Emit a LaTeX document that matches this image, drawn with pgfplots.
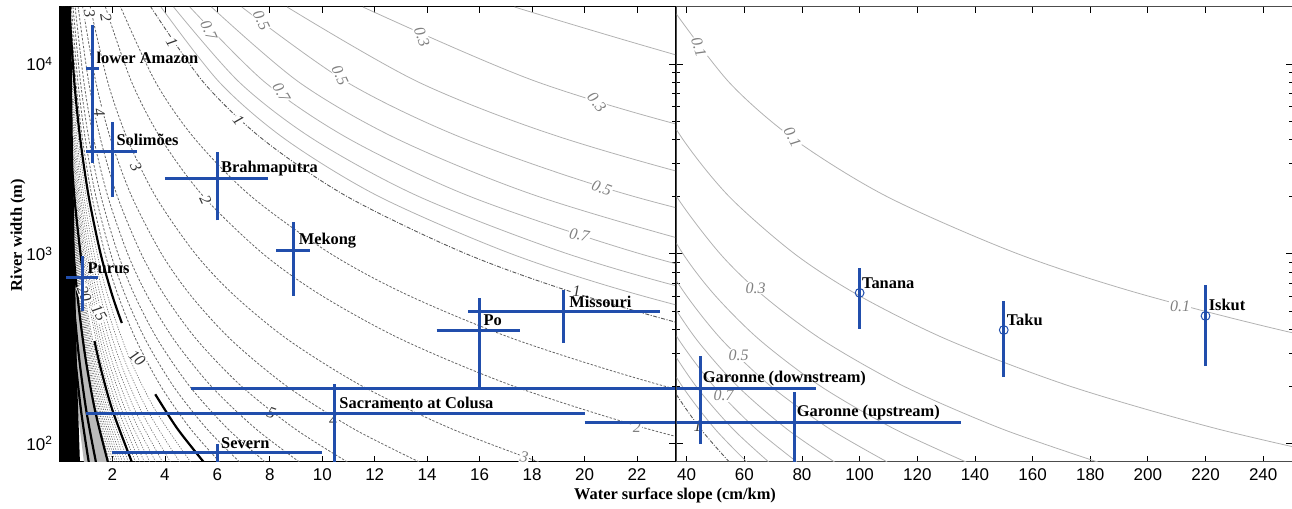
\documentclass[border=0pt]{standalone}
\usepackage{fontspec}
\setmainfont{Liberation Serif}
\newfontfamily\arial{Liberation Sans}
\usepackage{pgfplots}
\pgfplotsset{compat=1.18}
\definecolor{rblue}{RGB}{33,78,172}
\pgfplotsset{
  cg/.style={gray!60, line width=0.4pt, smooth},
  cdd/.style={black!65, line width=0.45pt, dash pattern=on 2pt off 0.8pt on 0.5pt off 0.8pt, smooth},
  cd/.style={black!60, line width=0.4pt, dash pattern=on 1.2pt off 0.8pt, smooth},
  cdot/.style={black!60, line width=0.3pt, dash pattern=on 0.6pt off 0.7pt, smooth},
  cth/.style={black, line width=1.1pt, smooth},
  cfill/.style={draw=none},
  eb/.style={rblue, line width=1.5pt, line cap=butt},
}
\tikzset{
  lab/.style={font=\fontsize{8.2}{8.2}\selectfont\bfseries, anchor=west, inner sep=0pt},
  clab/.style={font=\fontsize{8}{8}\selectfont\itshape, text=gray, fill=white, inner sep=0.4pt},
  clabk/.style={font=\fontsize{8}{8}\selectfont\itshape, text=black!80, fill=white, inner sep=0.4pt},
}
\newcommand{\contours}{%
\addplot[cg] coordinates {(547.8,80)(447.3,120)(346.5,200)(261.9,350)(200,600)(154.9,1000)(109.6,2000)(77.48,4000)(54.78,8000)(34.65,20000)};
\addplot[cg] coordinates {(273.9,80)(223.7,120)(173.3,200)(131,350)(100,600)(77.45,1000)(54.8,2000)(38.74,4000)(27.39,8000)(17.33,20000)};
\addplot[cg] coordinates {(182.6,80)(149.1,120)(115.5,200)(87.3,350)(66.67,600)(51.63,1000)(36.53,2000)(25.83,4000)(18.26,8000)(11.55,20000)};
\addplot[cg] coordinates {(136.95,80)(111.8,120)(86.6,200)(65.5,350)(50,600)(38.73,1000)(27.4,2000)(19.37,4000)(13.7,8000)(8.66,20000)};
\addplot[cg] coordinates {(109.6,80)(89.46,120)(69.3,200)(52.38,350)(40,600)(30.98,1000)(21.92,2000)(15.5,4000)(10.96,8000)(6.93,20000)};
\addplot[cg] coordinates {(91.3,80)(74.55,120)(57.75,200)(43.65,350)(33.33,600)(25.82,1000)(18.27,2000)(12.91,4000)(9.13,8000)(5.775,20000)};
\addplot[cg] coordinates {(78.26,80)(63.9,120)(49.5,200)(37.41,350)(28.57,600)(22.13,1000)(15.66,2000)(11.07,4000)(7.826,8000)(4.95,20000)};
\addplot[cg] coordinates {(68.48,80)(55.91,120)(43.31,200)(32.74,350)(25,600)(19.36,1000)(13.7,2000)(9.685,4000)(6.848,8000)(4.331,20000)};
\addplot[cg] coordinates {(60.87,80)(49.7,120)(38.5,200)(29.1,350)(22.22,600)(17.21,1000)(12.18,2000)(8.609,4000)(6.087,8000)(3.85,20000)};
\addplot[cdd] coordinates {(54.78,80)(44.73,120)(34.65,200)(26.19,350)(20,600)(15.49,1000)(10.96,2000)(7.748,4000)(5.478,8000)(3.465,20000)};
\addplot[cd] coordinates {(36.52,80)(29.82,120)(23.1,200)(17.46,350)(13.33,600)(10.33,1000)(7.307,2000)(5.165,4000)(3.652,8000)(2.31,20000)};
\addplot[cd] coordinates {(27.39,80)(22.37,120)(17.33,200)(13.1,350)(10,600)(7.745,1000)(5.48,2000)(3.874,4000)(2.739,8000)(1.733,20000)};
\addplot[cd] coordinates {(18.26,80)(14.91,120)(11.55,200)(8.73,350)(6.667,600)(5.163,1000)(3.653,2000)(2.583,4000)(1.826,8000)(1.155,20000)};
\addplot[cd] coordinates {(13.7,80)(11.18,120)(8.663,200)(6.548,350)(5.0,600)(3.873,1000)(2.74,2000)(1.937,4000)(1.37,8000)(0.866,20000)};
\addplot[cd] coordinates {(10.96,80)(8.946,120)(6.93,200)(5.238,350)(4.0,600)(3.098,1000)(2.192,2000)(1.55,4000)(1.096,8000)(0.693,20000)};
\addplot[cd] coordinates {(9.13,80)(7.455,120)(5.775,200)(4.365,350)(3.333,600)(2.582,1000)(1.827,2000)(1.291,4000)(0.913,8000)(0.5775,20000)};
\addplot[cd] coordinates {(7.826,80)(6.39,120)(4.95,200)(3.741,350)(2.857,600)(2.213,1000)(1.566,2000)(1.107,4000)(0.7826,8000)(0.495,20000)};
\addplot[cd] coordinates {(6.848,80)(5.591,120)(4.331,200)(3.274,350)(2.5,600)(1.936,1000)(1.37,2000)(0.9685,4000)(0.6848,8000)(0.433,20000)};
\addplot[cd] coordinates {(6.087,80)(4.97,120)(3.85,200)(2.91,350)(2.222,600)(1.721,1000)(1.218,2000)(0.861,4000)(0.6087,8000)(0.385,20000)};
\addplot[cfill, fill=gray!55] coordinates {(1.826,80)(1.334,150)(0.943,300)(0.617,700)(0.365,2000)(0.211,6000)(0.1155,20000)(0.0578,20000)(0.105,6000)(0.183,2000)(0.309,700)(0.4715,300)(0.667,150)(0.913,80)} -- cycle;
\addplot[cdot] coordinates {(4.98,80)(3.637,150)(2.572,300)(1.684,700)(0.996,2000)(0.575,6000)(0.315,20000)};
\addplot[cdot] coordinates {(4.565,80)(3.334,150)(2.358,300)(1.543,700)(0.913,2000)(0.527,6000)(0.289,20000)};
\addplot[cdot] coordinates {(4.214,80)(3.078,150)(2.176,300)(1.425,700)(0.843,2000)(0.487,6000)(0.267,20000)};
\addplot[cdot] coordinates {(3.913,80)(2.858,150)(2.021,300)(1.323,700)(0.783,2000)(0.452,6000)(0.2475,20000)};
\addplot[cdot] coordinates {(3.652,80)(2.667,150)(1.886,300)(1.235,700)(0.731,2000)(0.422,6000)(0.231,20000)};
\addplot[cdot] coordinates {(3.424,80)(2.501,150)(1.768,300)(1.158,700)(0.685,2000)(0.395,6000)(0.217,20000)};
\addplot[cdot] coordinates {(3.222,80)(2.354,150)(1.664,300)(1.089,700)(0.645,2000)(0.372,6000)(0.204,20000)};
\addplot[cdot] coordinates {(3.043,80)(2.223,150)(1.572,300)(1.029,700)(0.609,2000)(0.351,6000)(0.1925,20000)};
\addplot[cdot] coordinates {(2.883,80)(2.106,150)(1.489,300)(0.975,700)(0.577,2000)(0.333,6000)(0.182,20000)};
\addplot[cdot] coordinates {(2.609,80)(1.905,150)(1.347,300)(0.882,700)(0.522,2000)(0.301,6000)(0.165,20000)};
\addplot[cdot] coordinates {(2.49,80)(1.819,150)(1.286,300)(0.842,700)(0.498,2000)(0.2875,6000)(0.1575,20000)};
\addplot[cdot] coordinates {(2.382,80)(1.74,150)(1.23,300)(0.805,700)(0.4765,2000)(0.275,6000)(0.151,20000)};
\addplot[cdot] coordinates {(2.2825,80)(1.667,150)(1.179,300)(0.772,700)(0.4567,2000)(0.2636,6000)(0.144,20000)};
\addplot[cdot] coordinates {(2.191,80)(1.6,150)(1.132,300)(0.741,700)(0.438,2000)(0.253,6000)(0.139,20000)};
\addplot[cdot] coordinates {(2.107,80)(1.539,150)(1.088,300)(0.712,700)(0.4215,2000)(0.243,6000)(0.133,20000)};
\addplot[cdot] coordinates {(2.029,80)(1.482,150)(1.048,300)(0.686,700)(0.406,2000)(0.234,6000)(0.128,20000)};
\addplot[cdot] coordinates {(1.956,80)(1.429,150)(1.01,300)(0.661,700)(0.391,2000)(0.226,6000)(0.124,20000)};
\addplot[cdot] coordinates {(1.889,80)(1.38,150)(0.9755,300)(0.639,700)(0.378,2000)(0.218,6000)(0.1195,20000)};
\addplot[cfill, fill=black] coordinates {(0,80)(0.76,80)(0.66,200)(0.58,700)(0.5,3000)(0.42,20000)(0,20000)} -- cycle;
\addplot[cth] coordinates {(5.478,80)(4.473,120)(3.632,182)};
\addplot[cth] coordinates {(2.358,432)(2.0,600)(1.549,1000)(1.096,2000)(0.775,4000)(0.548,8000)(0.3465,20000)};
\addplot[cth] coordinates {(2.739,80)(2.0,150)(1.55,250)(1.315,347)};
\addplot[cth] coordinates {(0.866,800)(0.548,2000)(0.316,6000)(0.173,20000)};
\addplot[cth] coordinates {(1.826,80)(1.334,150)(0.943,300)(0.617,700)(0.365,2000)(0.211,6000)(0.1155,20000)};
\addplot[cth] coordinates {(1.3695,80)(1.0,150)(0.707,300)(0.463,700)(0.274,2000)(0.158,6000)(0.0866,20000)};
\addplot[cth] coordinates {(1.0956,80)(0.8,150)(0.566,300)(0.37,700)(0.219,2000)(0.1265,6000)(0.0693,20000)};
}
\newcommand{\bars}{%
\addplot[eb] coordinates {(1.0,9500)(1.5,9500)};
\addplot[eb] coordinates {(1.25,3000)(1.25,16000)};
\addplot[eb] coordinates {(1.0,3480)(2.94,3480)};
\addplot[eb] coordinates {(2.0,1990)(2.0,4940)};
\addplot[eb] coordinates {(4.0,2500)(7.95,2500)};
\addplot[eb] coordinates {(6.0,1500)(6.0,3430)};
\addplot[eb] coordinates {(8.25,1037)(9.54,1037)};
\addplot[eb] coordinates {(8.9,600)(8.9,1465)};
\addplot[eb] coordinates {(0.24,747)(1.46,747)};
\addplot[eb] coordinates {(0.85,500)(0.85,977)};
\addplot[eb] coordinates {(2.0,89.6)(10.0,89.6)};
\addplot[eb] coordinates {(6.0,70)(6.0,99.5)};
\addplot[eb] coordinates {(1.0,144)(20.0,144)};
\addplot[eb] coordinates {(10.45,70)(10.45,207)};
\addplot[eb] coordinates {(5.0,195)(85,195)};
\addplot[eb] coordinates {(44.9,99.5)(44.9,288)};
\addplot[eb] coordinates {(20.0,129)(135.3,129)};
\addplot[eb] coordinates {(77.4,70)(77.4,186)};
\addplot[eb] coordinates {(14.36,397)(17.55,397)};
\addplot[eb] coordinates {(16.0,195)(16.0,586)};
\addplot[eb] coordinates {(15.57,494)(22.86,494)};
\addplot[eb] coordinates {(19.2,339)(19.2,646)};
\addplot[eb] coordinates {(100,402)(100,844)};
\addplot[eb] coordinates {(150,224)(150,565)};
\addplot[eb] coordinates {(220,256)(220,686)};
\addplot[only marks, mark=o, mark size=2.2pt, rblue, line width=0.5pt] coordinates {(100,623)(150,397)(220,471)};
}
\pgfplotsset{
  myax/.style={
    scale only axis, height=227.5pt, ymin=80, ymax=20000,
    tick align=inside, major tick length=3pt, minor tick length=1.6pt,
    ytick={100,1000,10000},
    tick style={black, line width=0.4pt},
    axis line style={black, line width=0.5pt},
    ticklabel style={font=\arial\fontsize{8.5}{8.5}\selectfont},
    /pgf/number format/assume math mode=true,
  }
}
\begin{document}
\begin{tikzpicture}
\path[use as bounding box] (0,0) rectangle (646pt,254.5pt);
\begin{axis}[ymode=log, myax, at={(30pt,23.5pt)}, anchor=south west, width=307.5pt,
  xmin=0, xmax=23.45, xtick={2,4,...,22},
  yticklabels={10\textsuperscript{2},10\textsuperscript{3},10\textsuperscript{4}}]
\contours
\node[clab, rotate=-65] at (axis cs:5.67,15110) {0.7};
\node[clab, rotate=-65] at (axis cs:7.68,17060) {0.5};
\node[clabk, rotate=-60] at (axis cs:4.27,13060) {1};
\node[clab, rotate=-60] at (axis cs:8.44,7117) {0.7};
\node[clabk, rotate=-50] at (axis cs:6.81,5065) {1};
\node[clab, rotate=-70] at (axis cs:13.8,13880) {0.3};
\node[clab, rotate=-65] at (axis cs:10.68,8750) {0.5};
\node[clab, rotate=-50] at (axis cs:20.47,6300) {0.3};
\node[clab, rotate=-20] at (axis cs:20.66,2217) {0.5};
\node[clab, rotate=-10] at (axis cs:19.8,1254) {0.7};
\node[clabk, rotate=-65] at (axis cs:5.55,1915) {2};
\node[clabk, rotate=-65] at (axis cs:2.90,2858) {3};
\node[clabk, rotate=-80] at (axis cs:1.5,5580) {4};
\node[clabk, rotate=-80] at (axis cs:1.12,18500) {3};
\node[clabk, rotate=-80] at (axis cs:1.76,17500) {2};
\node[clabk, rotate=-45] at (axis cs:2.94,282) {10};
\node[clabk, rotate=-60] at (axis cs:1.49,488) {15};
\node[clabk, rotate=-70] at (axis cs:0.93,615) {20};
\node[clabk, rotate=-20] at (axis cs:8.06,145) {5};
\node[clabk] at (axis cs:10.41,132) {4};
\node[clab, rotate=-10] at (axis cs:17.7,85) {3};
\node[clab] at (axis cs:22.0,121.5) {2};
\node[clabk] at (axis cs:19.7,638) {1};
\bars
\node[lab] at (axis cs:1.38,10760) {lower Amazon};
\node[lab] at (axis cs:2.14,3970) {Solimões};
\node[lab] at (axis cs:6.13,2820) {Brahmaputra};
\node[lab] at (axis cs:9.09,1171) {Mekong};
\node[lab] at (axis cs:1.04,844) {Purus};
\node[lab] at (axis cs:6.13,101) {Severn};
\node[lab] at (axis cs:10.64,163) {Sacramento at Colusa};
\node[lab] at (axis cs:16.14,448) {Po};
\node[lab] at (axis cs:19.41,558) {Missouri};
\end{axis}
\begin{axis}[ymode=log, myax, at={(338.3pt,23.5pt)}, anchor=south west, width=307.7pt,
  xmin=36.5, xmax=250, xtick={40,60,...,240}, yticklabels={},
  axis line style={black!70, line width=0.5pt}]
\contours
\node[clab, rotate=-72] at (axis cs:44.2,12290) {0.1};
\node[clab, rotate=-62] at (axis cs:76.7,4120) {0.1};
\node[clab] at (axis cs:63.9,662) {0.3};
\node[clab] at (axis cs:58,291) {0.5};
\node[clab] at (axis cs:52.8,179) {0.7};
\node[clabk] at (axis cs:43.8,124) {1};
\node[clab] at (axis cs:211.2,532) {0.1};
\bars
\node[lab] at (axis cs:45.5,220) {Garonne (downstream)};
\node[lab] at (axis cs:78.1,146) {Garonne (upstream)};
\node[lab] at (axis cs:100.7,703) {Tanana};
\node[lab] at (axis cs:150.9,448) {Taku};
\node[lab] at (axis cs:221,538) {Iskut};
\end{axis}
\node[font=\fontsize{8.2}{8.2}\selectfont\bfseries] at (337.5pt,7pt) {Water surface slope (cm/km)};
\node[font=\fontsize{8.2}{8.2}\selectfont\bfseries, rotate=90] at (9pt,137pt) {River width (m)};
\end{tikzpicture}
\end{document}
